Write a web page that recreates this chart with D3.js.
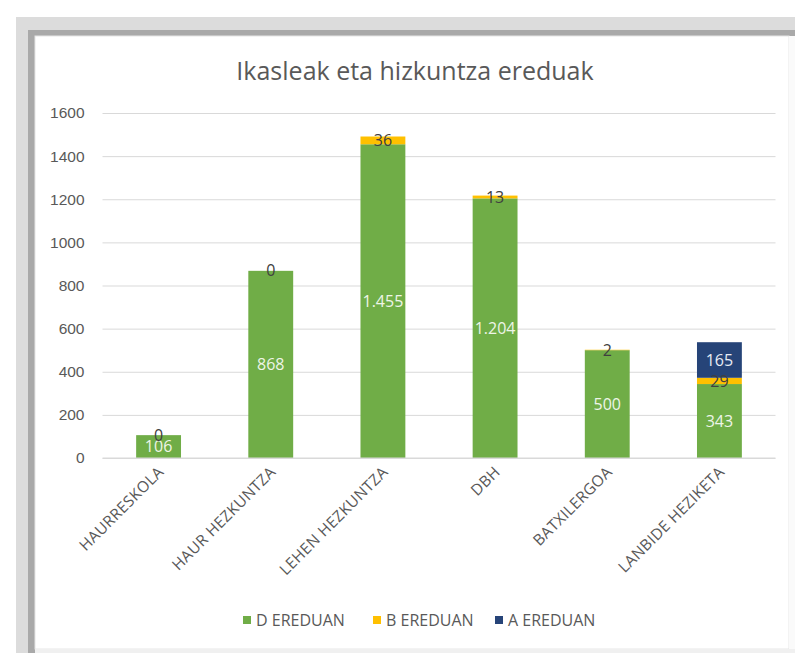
<!DOCTYPE html>
<html>
<head>
<meta charset="utf-8">
<script src="https://cdn.jsdelivr.net/npm/d3@7"></script>
<style>
  body { margin: 0; background: #fff; }
  svg { display: block; font-family: "Open Sans", Lato, sans-serif; }
</style>
</head>
<body>
<script>
const categories = ["HAURRESKOLA", "HAUR HEZKUNTZA", "LEHEN HEZKUNTZA", "DBH", "BATXILERGOA", "LANBIDE HEZIKETA"]
const dValues = [106, 868, 1455, 1204, 500, 343]
const bValues = [0, 0, 36, 13, 2, 29]
const aValues = [null, null, null, null, null, 165]
const seriesNames = ["D EREDUAN", "B EREDUAN", "A EREDUAN"]
const seriesColors = ["#70ad47", "#ffc000", "#264478"]
const labelColors = ["#eef5e8", "#404040", "#e8ecf4"]
const yTicks = [0, 200, 400, 600, 800, 1000, 1200, 1400, 1600]

const width = 795
const height = 653

const rows = categories.map((c, i) => ({cat: c, D: dValues[i], B: bValues[i], A: aValues[i]}))
const keys = ["D", "B", "A"]
const raw = {D: dValues, B: bValues, A: aValues}

const fmt = d3.formatLocale({decimal: ",", thousands: ".", grouping: [3], currency: ["", "€"]}).format(",d")

const svg = d3.select("body")
    .append("svg")
    .attr("width", width)
    .attr("height", height)

// shadow frame round the chart panel
svg.append("rect").attr("x", 16).attr("y", 17).attr("width", width - 16).attr("height", height - 17).attr("fill", "#dcdcdc")
svg.append("rect").attr("x", 28).attr("y", 30).attr("width", width - 28).attr("height", height - 30).attr("fill", "#a9a9a9")
svg.append("rect").attr("x", 35).attr("y", 36).attr("width", 754).attr("height", 613)
    .attr("fill", "#fff").attr("stroke", "#e6e6e6").attr("stroke-width", 1)
svg.append("rect").attr("x", 789).attr("y", 36).attr("width", 6).attr("height", height - 36).attr("fill", "#fafafa")
svg.append("rect").attr("x", 35).attr("y", 649).attr("width", width - 35).attr("height", 4).attr("fill", "#f0f0f0")

const x = d3.scaleBand()
    .domain(categories)
    .range([102.5, 775.5])
    .paddingInner(0.6)
    .paddingOuter(0.3)

const y = d3.scaleLinear()
    .domain([0, 1600])
    .range([458, 113])

// gridlines + y labels
const yAxis = svg.append("g")
    .attr("transform", "translate(102.5,0)")
    .call(d3.axisLeft(y).tickValues(yTicks).tickFormat(d3.format("d")).tickSize(-(775.5 - 102.5)).tickPadding(18))
yAxis.select(".domain").remove()
yAxis.selectAll(".tick line").attr("stroke", "#d9d9d9")
yAxis.selectAll(".tick text").attr("fill", "#595959").style("font-size", "15.5px")

const stacked = d3.stack().keys(keys).value((d, k) => d[k] || 0)(rows)

svg.append("g").selectAll("g")
    .data(stacked)
    .join("g")
    .attr("fill", (d, i) => seriesColors[i])
    .selectAll("rect")
    .data(d => d)
    .join("rect")
    .attr("x", d => x(d.data.cat))
    .attr("width", x.bandwidth())
    .attr("y", d => y(d[1]))
    .attr("height", d => y(d[0]) - y(d[1]))

// x axis baseline
svg.append("line")
    .attr("x1", 102.5).attr("x2", 775.5)
    .attr("y1", y(0)).attr("y2", y(0))
    .attr("stroke", "#d9d9d9")

// data labels
stacked.forEach((s, si) => {
    svg.append("g").selectAll("text")
        .data(s.filter((d, i) => raw[s.key][i] !== null))
        .join("text")
        .attr("x", d => x(d.data.cat) + x.bandwidth() / 2)
        .attr("y", d => (y(d[0]) + y(d[1])) / 2)
        .attr("dy", "0.35em")
        .attr("text-anchor", "middle")
        .attr("fill", labelColors[si])
        .style("font-size", "16px")
        .text(d => fmt(d.data[s.key]))
})

// category labels
svg.append("g").selectAll("text")
    .data(categories)
    .join("text")
    .attr("transform", d => `translate(${x(d) + x.bandwidth() / 2 + 6},${y(0) + 15}) rotate(-45)`)
    .attr("text-anchor", "end")
    .attr("fill", "#595959")
    .style("font-size", "15.5px")
    .style("letter-spacing", "0.3px")
    .text(d => d)

// title
svg.append("text")
    .attr("x", 415)
    .attr("y", 80)
    .attr("text-anchor", "middle")
    .attr("fill", "#595959")
    .style("font-size", "25px")
    .text("Ikasleak eta hizkuntza ereduak")

// legend
const legendX = [243, 373, 495]
const legend = svg.append("g").selectAll("g")
    .data(seriesNames)
    .join("g")
    .attr("transform", (d, i) => `translate(${legendX[i]},620)`)
legend.append("rect")
    .attr("x", 0).attr("y", -4).attr("width", 8).attr("height", 8)
    .attr("fill", (d, i) => seriesColors[i])
legend.append("text")
    .attr("x", 13).attr("dy", "0.35em")
    .attr("fill", "#595959")
    .style("font-size", "16px")
    .text(d => d)
</script>
</body>
</html>
